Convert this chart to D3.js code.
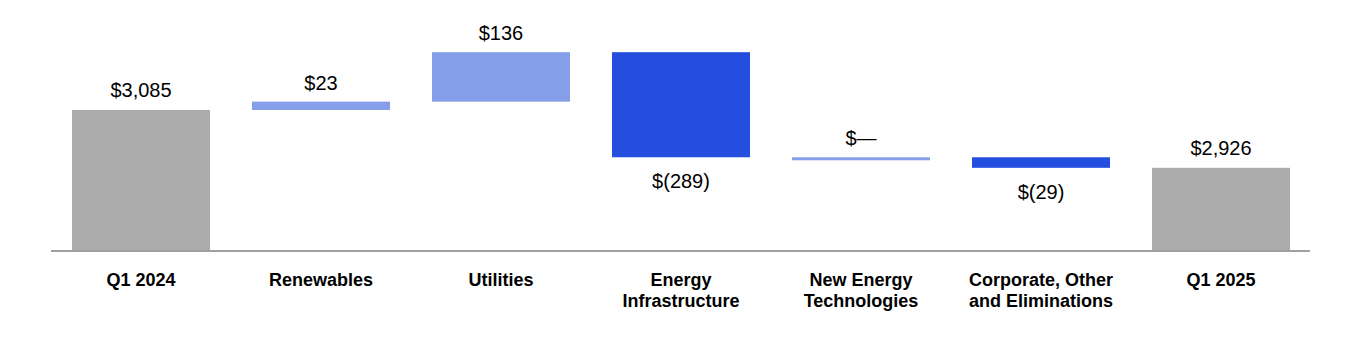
<!DOCTYPE html>
<html>
<head>
<meta charset="utf-8">
<script src="https://cdn.jsdelivr.net/npm/d3@7"></script>
<style>
  body { margin: 0; background: #fff; }
  text { font-family: "Liberation Sans", Arial, sans-serif; }
</style>
</head>
<body>
<script>
// waterfall data
var categories = ["Q1 2024", "Renewables", "Utilities", "Energy\nInfrastructure",
                  "New Energy\nTechnologies", "Corporate, Other\nand Eliminations", "Q1 2025"];
var changes    = [3085, 23, 136, -289, 0, -29, 2926];
var kinds      = ["total", "up", "up", "down", "up", "down", "total"];
var valueLabels = ["$3,085", "$23", "$136", "$(289)", "$\u2014", "$(29)", "$2,926"];

var colors = { total: "#acacac", up: "#849eea", down: "#234ede" };

var width = 1360, height = 350;

// work out start / end of each step
var steps = [];
var running = 0;
changes.forEach(function(v, i) {
  if (kinds[i] === "total") {
    steps.push({ start: null, end: v });
    running = v;
  } else {
    steps.push({ start: running, end: running + v });
    running = running + v;
  }
});

var svg = d3.select("body").append("svg")
    .attr("width", width)
    .attr("height", height);

var x = d3.scaleBand()
    .domain(categories)
    .range([51, 1311])
    .paddingInner(0.2333)
    .paddingOuter(0.1167);

// axis doesn't start at zero
var y = d3.scaleLinear()
    .domain([2700, 3085])
    .range([250, 110]);

var bars = svg.selectAll("g.step")
    .data(steps)
    .enter()
    .append("g")
    .attr("class", "step");

bars.append("rect")
    .attr("x", function(d, i) { return x(categories[i]); })
    .attr("width", x.bandwidth())
    .attr("y", function(d, i) {
      if (kinds[i] === "total") return y(d.end);
      return Math.min(y(d.start), y(d.end));
    })
    .attr("height", function(d, i) {
      if (kinds[i] === "total") return y.range()[0] - y(d.end);
      return Math.max(3, Math.abs(y(d.start) - y(d.end)));
    })
    .attr("fill", function(d, i) { return colors[kinds[i]]; });

// value labels: above for totals / increases, below for decreases
bars.append("text")
    .attr("x", function(d, i) { return x(categories[i]) + x.bandwidth() / 2; })
    .attr("y", function(d, i) {
      if (kinds[i] === "total") return y(d.end) - 13;
      if (kinds[i] === "down") return Math.max(y(d.start), y(d.end)) + 31;
      return Math.min(y(d.start), y(d.end)) - 12;
    })
    .attr("text-anchor", "middle")
    .style("font-size", "20px")
    .style("fill", "#000")
    .text(function(d, i) { return valueLabels[i]; });

// baseline
svg.append("line")
    .attr("x1", 51).attr("x2", 1310)
    .attr("y1", 251).attr("y2", 251)
    .attr("stroke", "#a0a0a0")
    .attr("stroke-width", 2);

// category labels, can wrap onto 2 lines
var cat = svg.selectAll("text.cat")
    .data(categories)
    .enter()
    .append("text")
    .attr("class", "cat")
    .attr("text-anchor", "middle")
    .attr("x", function(d) { return x(d) + x.bandwidth() / 2; })
    .attr("y", 286)
    .style("font-size", "18px")
    .style("font-weight", "bold")
    .style("fill", "#000");

cat.each(function(d) {
  var lines = d.split("\n");
  var t = d3.select(this);
  lines.forEach(function(l, j) {
    t.append("tspan")
      .attr("x", x(d) + x.bandwidth() / 2)
      .attr("dy", j === 0 ? 0 : 21)
      .text(l);
  });
});
</script>
</body>
</html>
